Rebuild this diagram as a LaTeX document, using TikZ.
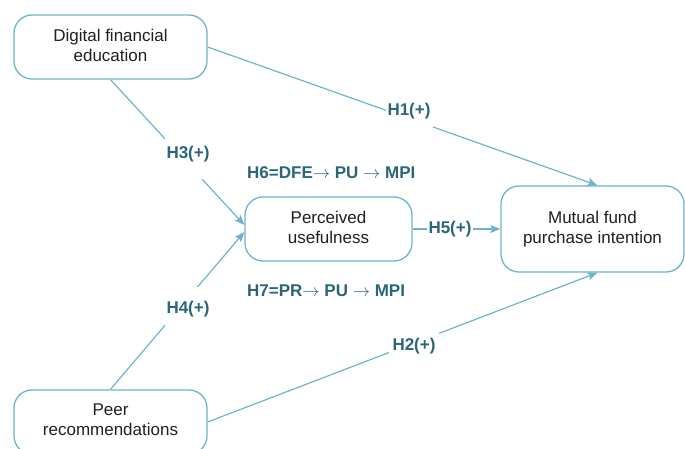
\documentclass[tikz,border=0pt]{standalone}
\usepackage{fontspec}
\setmainfont{Liberation Sans}
\usetikzlibrary{arrows.meta}
\definecolor{edgec}{HTML}{6EB4CC}
\definecolor{lblc}{HTML}{2A6679}
\definecolor{txtc}{HTML}{231F20}
\newcommand{\rarr}{\ensuremath{\rightarrow}}
\begin{document}
\begin{tikzpicture}[x=1pt,y=-1pt,
  box/.style={draw=edgec, line width=1.3pt, rounded corners=18pt, fill=white,
    font=\fontsize{17}{20}\selectfont, text=txtc, align=center, inner sep=0pt, text depth=4pt},
  conn/.style={draw=edgec, line width=1.2pt},
  arr/.style={conn, -{Stealth[length=10pt,width=8pt,inset=2pt]}},
  lbl/.style={font=\bfseries\fontsize{17}{20}\selectfont, text=lblc, inner sep=0pt},
  gap/.style={lbl, fill=white, minimum width=#1}]
\path[clip] (0,0) rectangle (685,449);
% boxes
\node[box, minimum width=193pt, minimum height=64pt] (dfe) at (110.5,47) {Digital financial\\education};
\node[box, minimum width=167pt, minimum height=64pt] (pu) at (328.5,229) {Perceived\\usefulness};
\node[box, minimum width=183pt, minimum height=86pt] (mpi) at (592.5,229) {Mutual fund\\purchase intention};
\node[box, minimum width=193pt, minimum height=64pt] (pr) at (110.5,422) {Peer\\recommendations};
% connectors
\draw[arr] (dfe.east) -- ([xshift=5pt]mpi.north);
\draw[arr] (pr.east) -- ([xshift=5pt]mpi.south);
\draw[arr] (dfe.south) -- ([yshift=4pt]pu.west);
\draw[arr] (pr.north) -- ([yshift=-3pt]pu.west);
\draw[arr] (pu.east) -- (mpi.west);
% labels
\node[gap=47pt, minimum height=34pt] (h1) at (409,111) {H1(+)};
\node[gap=50pt, minimum height=30pt] (h2) at (414,346) {H2(+)};
\node[gap=46pt, minimum height=50pt] (h3) at (188,154) {H3(+)};
\node[gap=46pt, minimum height=44pt] (h4) at (188,309) {H4(+)};
\node[gap=46pt, minimum height=20pt] (h5) at (450,229) {H5(+)};
\node[lbl, anchor=west] (h6) at (247,173) {H6=DFE\rarr\ PU \rarr\ MPI};
\node[lbl, anchor=west] (h7) at (247,291) {H7=PR\rarr\ PU \rarr\ MPI};
\end{tikzpicture}
\end{document}
